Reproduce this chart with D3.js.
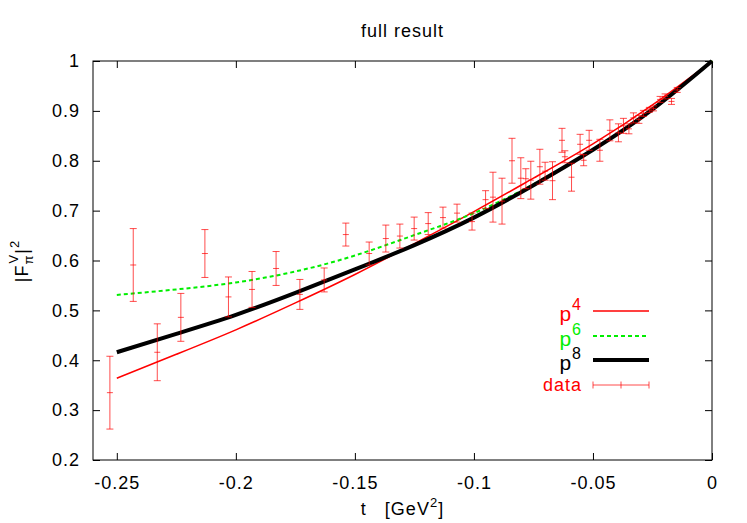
<!DOCTYPE html>
<html lang="en">
<head>
<meta charset="UTF-8"/>
<title>full result</title>
<script src="https://d3js.org/d3.v7.min.js"></script>
<style>
  body { margin: 0; background: white; }
  text { font-family: "Liberation Sans", Arial, sans-serif; font-size: 18px; letter-spacing: 1px; }
  .tick line { stroke: black; }
  .curve { fill: none; }
</style>
</head>
<body>
<div id="chart"></div>
<script>
// data
var dataT   = [-0.2529,-0.2431,-0.2330,-0.2231,-0.2130,-0.2031,-0.1932,-0.1831,-0.1731,-0.1629,
               -0.1538,-0.1440,-0.1370,-0.1311,-0.1251,-0.1192,-0.1130,-0.1071,-0.1008,-0.0951,
               -0.0920,-0.0882,-0.0840,-0.0803,-0.0782,-0.0761,-0.0723,-0.0701,-0.0670,-0.0630,
               -0.0618,-0.0590,-0.0554,-0.0539,-0.0516,-0.0471,-0.0429,-0.0393,-0.0372,-0.0349,
               -0.0330,-0.0307,-0.0288,-0.0263,-0.0246,-0.0218,-0.0197,-0.0170,-0.0146];
var dataVal = [0.335,0.591,0.416,0.486,0.614,0.527,0.542,0.584,0.532,0.561,
               0.652,0.614,0.644,0.649,0.664,0.674,0.686,0.695,0.678,0.722,
               0.727,0.719,0.800,0.765,0.764,0.761,0.788,0.779,0.760,0.841,
               0.808,0.767,0.833,0.801,0.841,0.821,0.861,0.856,0.870,0.864,
               0.886,0.883,0.895,0.902,0.905,0.923,0.929,0.919,0.942];
var dataErr = [0.073,0.073,0.057,0.048,0.048,0.040,0.036,0.034,0.030,0.024,
               0.023,0.023,0.027,0.024,0.023,0.022,0.021,0.018,0.017,0.018,
               0.050,0.046,0.045,0.041,0.020,0.038,0.035,0.018,0.038,0.024,
               0.012,0.028,0.020,0.011,0.020,0.022,0.021,0.018,0.015,0.010,
               0.010,0.008,0.006,0.005,0.005,0.006,0.005,0.006,0.005];

var curveT = [-0.25,-0.225,-0.2,-0.175,-0.15,-0.125,-0.1,-0.075,-0.05,-0.025,0];
var p4 = [0.364,0.412,0.461,0.515,0.572,0.634,0.698,0.765,0.834,0.912,1.0];
var p6 = [0.531,0.542,0.556,0.578,0.610,0.651,0.695,0.753,0.822,0.903,1.0];
var p8 = [0.416,0.453,0.491,0.535,0.582,0.631,0.686,0.751,0.822,0.903,1.0];

var xTicks = [-0.25,-0.2,-0.15,-0.1,-0.05,0];
var xTickLabels = ["-0.25","-0.2","-0.15","-0.1","-0.05","0"];
var yTicks = [0.2,0.3,0.4,0.5,0.6,0.7,0.8,0.9,1];
var yTickLabels = ["0.2","0.3","0.4","0.5","0.6","0.7","0.8","0.9","1"];

var legendNames = ["4","6","8","data"];

var W = 747, H = 523;
var margin = {top: 61, right: 35, bottom: 63, left: 93};
var w = W - margin.left - margin.right;
var h = H - margin.top - margin.bottom;

var svg = d3.select("#chart").append("svg")
  .attr("width", W).attr("height", H);

var xScale = d3.scaleLinear().domain([-0.26, 0]).range([0, w]);
var yScale = d3.scaleLinear().domain([0.2, 1]).range([h, 0]);

var g = svg.append("g")
  .attr("transform", "translate(" + margin.left + "," + margin.top + ")");

// axes, ticks pointing inward, mirrored on top/right
var xAxis = d3.axisBottom(xScale).tickValues(xTicks).tickSize(-7)
  .tickFormat(function(d, i){ return xTickLabels[i]; });
var yAxis = d3.axisLeft(yScale).tickValues(yTicks).tickSize(-7)
  .tickFormat(function(d, i){ return yTickLabels[i]; });

var gx = g.append("g").attr("transform", "translate(0," + h + ")").call(xAxis);
gx.select(".domain").remove();
gx.selectAll("text").attr("y", 29).attr("dy", null).attr("font-size", 18)
  .attr("font-family", null).attr("fill", "black");

var gy = g.append("g").call(yAxis);
gy.select(".domain").remove();
gy.selectAll("text").attr("x", -13).attr("font-size", 18)
  .attr("font-family", null).attr("fill", "black");

var gxTop = g.append("g").call(d3.axisTop(xScale).tickValues(xTicks).tickSize(-7).tickFormat(""));
gxTop.select(".domain").remove();
var gyRight = g.append("g").attr("transform", "translate(" + w + ",0)")
  .call(d3.axisRight(yScale).tickValues(yTicks).tickSize(-7).tickFormat(""));
gyRight.select(".domain").remove();

g.append("rect").attr("width", w).attr("height", h)
  .attr("fill", "none").attr("stroke", "black").attr("stroke-width", 1);

// curves
var line = function(vals){
  return d3.line()
    .x(function(d, i){ return xScale(curveT[i]); })
    .y(function(d){ return yScale(d); })
    .curve(d3.curveNatural)(vals);
};

g.append("path").attr("class", "curve").attr("d", line(p4))
  .attr("stroke", "red").attr("stroke-width", 1.5);
g.append("path").attr("class", "curve").attr("d", line(p6))
  .attr("stroke", "#00ee00").attr("stroke-width", 2).attr("stroke-dasharray", "4,3");
g.append("path").attr("class", "curve").attr("d", line(p8))
  .attr("stroke", "black").attr("stroke-width", 4);

// data with error bars
var bars = g.append("g").attr("stroke", "red").attr("stroke-opacity", 0.7).attr("stroke-width", 1);
dataT.forEach(function(t, i){
  var x = xScale(t), y0 = yScale(dataVal[i] - dataErr[i]), y1 = yScale(dataVal[i] + dataErr[i]);
  var yc = yScale(dataVal[i]);
  bars.append("line").attr("x1", x).attr("x2", x).attr("y1", y0).attr("y2", y1);
  bars.append("line").attr("x1", x - 3.5).attr("x2", x + 3.5).attr("y1", y0).attr("y2", y0);
  bars.append("line").attr("x1", x - 3.5).attr("x2", x + 3.5).attr("y1", y1).attr("y2", y1);
  bars.append("line").attr("x1", x - 3).attr("x2", x + 3).attr("y1", yc).attr("y2", yc);
});

// legend
var legX1 = 593, legX2 = 649, legTextX = 582;
var rowY = [311, 336, 360, 385];
var legColors = ["red", "#00ee00", "black", "red"];

legendNames.forEach(function(name, i){
  var t = svg.append("text").attr("x", legTextX).attr("text-anchor", "end").attr("fill", legColors[i]);
  if (name === "data") {
    t.attr("y", rowY[i] + 5.5).text(name);
  } else {
    t.attr("y", rowY[i] + 10);
    t.append("tspan").attr("font-size", 21).text("p");
    t.append("tspan").attr("dy", -11).attr("font-size", 16).text(name);
  }
});
svg.append("line").attr("x1", legX1).attr("x2", legX2).attr("y1", rowY[0]).attr("y2", rowY[0])
  .attr("stroke", "red").attr("stroke-width", 1.5);
svg.append("line").attr("x1", legX1).attr("x2", legX2).attr("y1", rowY[1]).attr("y2", rowY[1])
  .attr("stroke", "#00ee00").attr("stroke-width", 2).attr("stroke-dasharray", "4,3");
svg.append("line").attr("x1", legX1).attr("x2", legX2).attr("y1", rowY[2]).attr("y2", rowY[2])
  .attr("stroke", "black").attr("stroke-width", 4);
var lg = svg.append("g").attr("stroke", "red").attr("stroke-opacity", 0.7);
lg.append("line").attr("x1", legX1).attr("x2", legX2).attr("y1", rowY[3]).attr("y2", rowY[3]);
[legX1, (legX1 + legX2) / 2, legX2].forEach(function(x){
  lg.append("line").attr("x1", x).attr("x2", x).attr("y1", rowY[3] - 3.5).attr("y2", rowY[3] + 3.5);
});

// title and axis labels
svg.append("text").attr("x", margin.left + w / 2).attr("y", 37)
  .attr("text-anchor", "middle").text("full result");

svg.append("text").attr("x", margin.left + w / 2).attr("y", 515)
  .attr("text-anchor", "middle").attr("xml:space", "preserve").style("white-space", "pre")
  .text("t   [GeV")
  .append("tspan").attr("dy", -8).attr("font-size", 13).text("2")
  .select(function(){ return this.parentNode; })
  .append("tspan").attr("dy", 8).text("]");

var yl = svg.append("text").attr("transform", "translate(28,261) rotate(-90)")
  .attr("text-anchor", "middle");
yl.append("tspan").text("|F");
yl.append("tspan").attr("dy", 5).attr("font-size", 13).text("\u03c0");
yl.append("tspan").attr("dx", -9).attr("dy", -15).attr("font-size", 13).text("V");
yl.append("tspan").attr("dy", 10).text("|");
yl.append("tspan").attr("dy", -9).attr("font-size", 13).text("2");
</script>
</body>
</html>
